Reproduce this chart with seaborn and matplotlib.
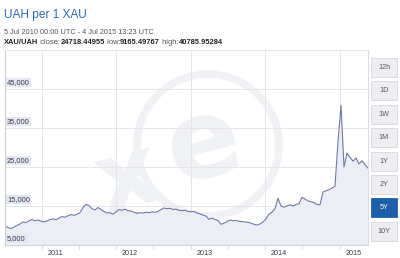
import matplotlib
matplotlib.use("Agg")
import matplotlib.pyplot as plt
from matplotlib.patches import Circle, Rectangle
from matplotlib.transforms import Affine2D
import seaborn as sns
import pandas as pd

# ---------------- data ----------------
title = "UAH per 1 XAU"
subtitle = "5 Jul 2010 00:00 UTC - 4 Jul 2015 13:23 UTC"
pair = "XAU/UAH"
stat_labels = ["close:", "low:", "high:"]
stat_values = ["24718.44955", "9165.49767", "40785.95284"]
y_ticks = [5000, 15000, 25000, 35000, 45000]
x_tick_years = [2011, 2012, 2013, 2014, 2015]
buttons = ["12h", "1D", "1W", "1M", "1Y", "2Y", "5Y", "10Y"]
selected_button = "5Y"
start_date = "2010-07-05"
end_date = "2015-05-20"
rate = [
    9900, 9500, 9200, 9600, 10000, 10400, 10900, 10700, 11200, 11500,
    11200, 11400, 11100, 10900, 11200, 11500, 11700, 11500, 11900, 12300,
    12100, 12500, 12800, 12600, 12900, 13300, 14600, 15400, 15100, 14300,
    14000, 14600, 14100, 13600, 13200, 13300, 12900, 13500, 14100, 13900,
    14200, 13800, 13700, 13400, 13100, 13300, 13200, 13400, 13300, 13500,
    13400, 13600, 14100, 14500, 14300, 14400, 14100, 14200, 13900, 13800,
    13900, 13600, 13500, 13600, 13200, 13000, 12700, 12400, 11600, 11900,
    11500, 11300, 10300, 10600, 11000, 11400, 11200, 11300, 11100, 11000,
    10900, 10800, 10600, 10300, 10100, 10400, 10900, 11700, 12900, 13400,
    14300, 17000, 15000, 14700, 15000, 15300, 15000, 15400, 15600, 17200,
    16800, 16300, 16100, 15900, 15400, 15300, 18600, 18900, 19200, 19600,
    20100, 31500, 40800, 25000, 28600, 27500, 26500, 27300, 25800, 26600,
    25600, 24700,
]

# ---------------- style ----------------
sns.set_theme(style="white")
plt.rcParams["font.family"] = ["Liberation Sans", "DejaVu Sans"]

W, H, DPI = 400, 258, 100
fig = plt.figure(figsize=(W / DPI, H / DPI), dpi=DPI)
fig.patch.set_facecolor("white")
# pixel transform: (x from left, y from top) in pixels
pix = Affine2D().scale(1 / DPI, -1 / DPI).translate(0, H / DPI) + fig.dpi_scale_trans

ax = fig.add_axes([5 / W, 13 / H, 363 / W, 195 / H])
ax.set_facecolor("white")

df = pd.DataFrame({"date": pd.date_range(start_date, end_date, periods=len(rate)),
                   "rate": rate})

# watermark
wm = "#f1f2f6"
ax.add_patch(Circle((208, 145), 71, fill=False, lw=5.5, ec=wm, transform=pix, zorder=0.3))
ax.text(204, 146, "e", transform=pix, fontsize=78, fontweight="bold", color=wm,
        ha="center", va="center", rotation=15, zorder=0.3, family="DejaVu Sans")
ax.text(128, 180, "x", transform=pix, fontsize=70, fontweight="bold", color=wm,
        ha="center", va="center", rotation=15, zorder=0.3, family="DejaVu Sans")

ax.fill_between(df["date"], df["rate"], 0, color="#eceef5", zorder=0.6, lw=0)
sns.lineplot(data=df, x="date", y="rate", ax=ax, color="#7079a8", linewidth=0.8, zorder=2)

ax.set_ylim(5000, 55000)
ax.set_xlim(df["date"].iloc[0], df["date"].iloc[-1])
ax.set_xlabel("")
ax.set_ylabel("")

year_dates = [pd.Timestamp(f"{y}-01-01") for y in x_tick_years]
mid_dates = [pd.Timestamp(f"{y}-07-01") for y in [2010] + x_tick_years]
ax.set_xticks(year_dates)
ax.set_xticks([d for d in mid_dates if df["date"].iloc[0] < d < df["date"].iloc[-1]], minor=True)
ax.set_xticklabels([])
ax.tick_params(axis="x", which="both", direction="out", length=3, width=0.6,
               color="#cfd2e0", bottom=True)
ax.set_yticks(y_ticks)
ax.set_yticklabels([])
ax.tick_params(axis="y", left=False)
ax.grid(True, which="major", color="#e6e6ea", lw=0.7, zorder=0.2)
ax.set_axisbelow(True)

for side, col in [("left", "#c9cce0"), ("bottom", "#d3d5e2"), ("top", "#e6e6ea"), ("right", "#dcdce2")]:
    ax.spines[side].set_color(col)
    ax.spines[side].set_linewidth(0.8)

for yv in y_ticks:
    ax.annotate(f"{yv:,}", xy=(0, yv), xycoords=("axes fraction", "data"),
                xytext=(1.5, 2.2), textcoords="offset points", fontsize=5.4,
                color="#3a3d50", ha="left", va="bottom", zorder=5,
                bbox=dict(boxstyle="square,pad=0.18", fc="#e4e6f2", ec="none"))

for yr, d in zip(x_tick_years, year_dates):
    ax.annotate(str(yr), xy=(d, 0), xycoords=("data", "axes fraction"),
                xytext=(4, -3.5), textcoords="offset points", fontsize=5.2,
                color="#3a3d50", ha="left", va="top", annotation_clip=False)

# header
fig.text(4, 15, title, transform=pix, fontsize=8.6, color="#2b6cb8", ha="left", va="center")
fig.text(4, 32, subtitle, transform=pix, fontsize=5.3, color="#555555", ha="left", va="center")
anchor = fig.text(4, 43, pair, transform=pix, fontsize=5.4, color="#222222",
                  fontweight="bold", ha="left", va="center")
for lab, val in zip(stat_labels, stat_values):
    t1 = plt.annotate(" " + lab, xy=(1, 0), xycoords=anchor, xytext=(0, 0),
                      textcoords="offset points", fontsize=5.4, color="#555555",
                      ha="left", va="bottom", annotation_clip=False)
    t2 = plt.annotate(val, xy=(1, 0), xycoords=t1, xytext=(0, 0),
                      textcoords="offset points", fontsize=5.4, color="#222222",
                      fontweight="bold", ha="left", va="bottom", annotation_clip=False)
    anchor = t2

# range buttons
bx, bw, bh, top0, pitch = 371, 26, 19, 58, 23.4
for i, b in enumerate(buttons):
    y0 = top0 + i * pitch
    sel = b == selected_button
    fig.add_artist(Rectangle((bx, y0 + bh), bw, -bh, transform=pix,
                             fc="#1d5ea8" if sel else "#eeeef2",
                             ec="#1d5ea8" if sel else "#d6d7de", lw=0.6))
    fig.text(bx + bw / 2, y0 + bh / 2, b, transform=pix, fontsize=5.2,
             color="white" if sel else "#555560", ha="center", va="center")

fig.savefig("out.png", dpi=DPI)
